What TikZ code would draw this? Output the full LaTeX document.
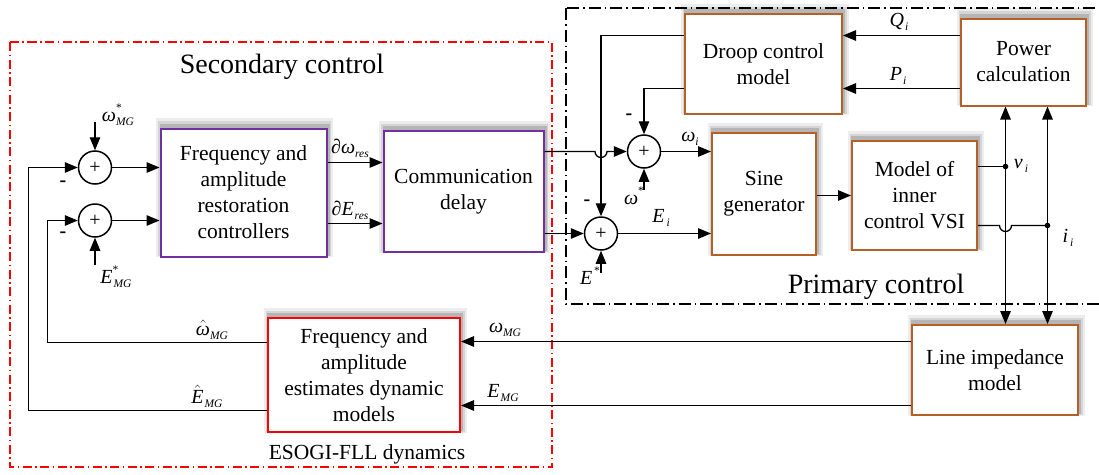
\documentclass[tikz,border=0pt]{standalone}
\usepackage{fontspec}
\setmainfont{Liberation Serif}
\usetikzlibrary{arrows.meta,calc}

\definecolor{boxpurple}{RGB}{112,48,160}
\definecolor{boxbrown}{RGB}{181,96,38}

% signal labels
\newcommand\subfont{\fontsize{11.5}{11.5}\selectfont}
\newcommand\vsub[2]{\textit{#1}\raisebox{-0.45ex}{\subfont\textit{#2}}}
\newcommand\vstar[2]{\textit{#1}\rlap{\raisebox{1.05ex}{\subfont *}}\raisebox{-0.45ex}{\subfont\textit{#2}}}
\newcommand\hatw{\ensuremath{\hat{\mbox{\textit{ω}}}}}
\newcommand\hatE{\ensuremath{\hat{\mbox{\textit{E}}}}}

\tikzset{
  softshadow/.style={
    preaction={draw=black, draw opacity=0.07, line width=11pt, transform canvas={xshift=1pt,yshift=5pt}},
    preaction={draw=black, draw opacity=0.10, line width=7pt, transform canvas={xshift=1pt,yshift=4pt}},
    preaction={draw=black, draw opacity=0.15, line width=4pt, transform canvas={xshift=1pt,yshift=3pt}}},
  blk/.style={softshadow, draw, line width=2pt, fill=white, align=center, inner sep=0pt,
    font=\fontsize{21.5}{26}\selectfont},
  pblk/.style={blk, draw=boxpurple},
  bblk/.style={blk, draw=boxbrown},
  rblk/.style={blk, draw=red},
  sumnode/.style={circle, draw, line width=1.5pt, fill=white, minimum size=33pt,
    inner sep=0pt, font=\fontsize{20}{20}\selectfont},
  conn/.style={line width=1.3pt},
  arr/.style={conn, -{Triangle[length=13pt,width=10.5pt]}},
  arrboth/.style={conn, {Triangle[length=13pt,width=10.5pt]}-{Triangle[length=13pt,width=10.5pt]}},
  lbl/.style={font=\fontsize{20}{20}\selectfont, inner sep=0pt},
  minus/.style={font=\bfseries\fontsize{20}{20}\selectfont, inner sep=0pt},
  title/.style={font=\fontsize{28}{28}\selectfont, inner sep=0pt, anchor=base},
  secgroup/.style={draw=red, line width=1.3pt, dash pattern=on 9pt off 3.5pt on 1.5pt off 3.5pt},
  primgroup/.style={draw=black, line width=1.1pt, dash pattern=on 12pt off 4pt on 1.5pt off 4pt}
}

\begin{document}
\begin{tikzpicture}[x=1pt, y=-1pt]
\useasboundingbox (0,0) rectangle (1099,474);

% control layers
\draw[secgroup] (10,42) rectangle (552,467);
\draw[primgroup] (566,8) rectangle (1115,304);
\node[title] (sectitle) at (282,73) {Secondary control};
\node[title] (primtitle) at (876,293) {Primary control};

% blocks
\node[pblk, minimum width=166pt, minimum height=128pt] (frc) at (243.5,192.5)
  {Frequency and\\amplitude\\restoration\\controllers};
\node[pblk, minimum width=160pt, minimum height=121pt] (cd) at (463.5,191.5)
  {Communication\\delay};
\node[bblk, minimum width=157pt, minimum height=100pt] (droop) at (763.5,64)
  {Droop control\\model};
\node[bblk, minimum width=125pt, minimum height=87pt] (pc) at (1023.5,62)
  {Power\\calculation};
\node[bblk, minimum width=104pt, minimum height=122pt] (sine) at (764,194)
  {Sine\\generator};
\node[bblk, minimum width=125pt, minimum height=109pt] (inner) at (914.5,195.5)
  {Model of\\inner\\control VSI};
\node[rblk, minimum width=192pt, minimum height=114pt] (est) at (364,375)
  {Frequency and\\amplitude\\estimates dynamic\\models};
\node[bblk, minimum width=166pt, minimum height=90pt] (line) at (995,370)
  {Line impedance\\model};
\node[font=\fontsize{21.5}{26}\selectfont, inner sep=0pt, anchor=base] (esogi) at (367,459)
  {ESOGI-FLL dynamics};

% summing junctions
\node[sumnode] (s1) at (95,167.5) {+};
\node[sumnode] (s2) at (95,220.5) {+};
\node[sumnode] (s3) at (644,151.5) {+};
\node[sumnode] (s4) at (601,233.5) {+};

% reference inputs
\coordinate (wref) at (95,122);
\coordinate (eref) at (95,265);
\coordinate (wstar) at (644,190);
\coordinate (estar) at (601,273);
\draw[arr] (wref) -- (s1.north);
\draw[arr] (eref) -- (s2.south);
\draw[arr] (wstar) -- (s3.south);
\draw[arr] (estar) -- (s4.south);

% secondary loop
\draw[arr] (s1.east) -- (s1.east -| frc.west);
\draw[arr] (s2.east) -- (s2.east -| frc.west);
\coordinate (dwo) at ([yshift=30pt]frc.east);
\coordinate (deo) at ([yshift=-31pt]frc.east);
\draw[arr] (dwo) -- (dwo -| cd.west);
\draw[arr] (deo) -- (deo -| cd.west);
\draw[arr] (cd.east |- s3) -- ($(s4.north |- s3)+(-6,0)$)
  arc[start angle=180, end angle=360, radius=6pt] -- (s3.west);
\draw[arr] (cd.east |- s4) -- (s4.west);

% droop control
\coordinate (dq) at ([yshift=28.5pt]droop.west);
\coordinate (dp) at ([yshift=-24.5pt]droop.west);
\draw[arr] (dq) -| (s4.north);
\draw[arr] (dp) -| (s3.north);
\draw[arr] (dq -| pc.west) -- (dq -| droop.east);
\draw[arr] (dp -| pc.west) -- (dp -| droop.east);

% primary forward path
\draw[arr] (s3.east) -- (s3.east -| sine.west);
\draw[arr] (s4.east) -- (s4.east -| sine.west);
\draw[arr] (sine.east |- inner.west) -- (inner.west);

% measured voltage and current
\coordinate (vtop) at ([xshift=-18pt]pc.south);
\coordinate (itop) at ([xshift=24pt]pc.south);
\draw[arrboth] (vtop) -- (vtop |- line.north);
\draw[arrboth] (itop) -- (itop |- line.north);
\coordinate (vb) at ([yshift=29pt]inner.east);
\coordinate (ib) at ([yshift=-30pt]inner.east);
\draw[conn] (vb) -- (vb -| vtop);
\fill (vb -| vtop) circle (2.8pt);
\draw[conn] (ib) -- ($(ib -| vtop)+(-6,0)$)
  arc[start angle=180, end angle=360, radius=6pt] -- (ib -| itop);
\fill (ib -| itop) circle (2.8pt);

% microgrid measurements
\coordinate (wm) at ([yshift=28.5pt]line.west);
\coordinate (em) at ([yshift=-35.5pt]line.west);
\draw[arr] (wm) -- (wm -| est.east);
\draw[arr] (em) -- (em -| est.east);

% estimates fed back
\coordinate (wh) at ([yshift=32.5pt]est.west);
\coordinate (eh) at ([yshift=-35.5pt]est.west);
\coordinate (fbo) at ([xshift=-49pt]s1.west);
\coordinate (fbi) at ([xshift=-30pt]s2.west);
\draw[arr] (eh) -| (fbo) -- (s1.west);
\draw[arr] (wh) -| (fbi) -- (s2.west);

% signs
\node[minus] (m1) at (63,184) {-};
\node[minus] (m2) at (63,235) {-};
\node[minus] (m3) at (629,117) {-};
\node[minus] (m4) at (587,203) {-};

% signal labels
\node[lbl] (l1) at (118,115) {\vstar{ω}{MG}};
\node[lbl] (l2) at (116,277) {\vstar{E}{\kern1pt MG}};
\node[lbl] (l3) at (350,148) {∂\vsub{ω}{res}};
\node[lbl] (l4) at (350,210) {∂\vsub{E}{\kern1pt res}};
\node[lbl] (l5) at (690,139) {\vsub{ω}{i}};
\node[lbl] (l6) at (661,218) {\vsub{E}{\kern2pt i}};
\node[lbl] (l7) at (634,196) {\textit{ω}\raisebox{1.05ex}{\subfont *}};
\node[lbl] (l8) at (590,276) {\textit{E}\kern2pt\raisebox{1.05ex}{\subfont *}};
\node[lbl] (l9) at (899,22) {\vsub{Q}{\kern1pt i}};
\node[lbl] (l10) at (898,76) {\vsub{P}{\kern1pt i}};
\node[lbl] (l11) at (1021,166) {\vsub{v}{\kern2pt i}};
\node[lbl] (l12) at (1068,238) {\vsub{i}{\kern2pt i}};
\node[lbl] (l13) at (505,330) {\vsub{ω}{MG}};
\node[lbl] (l14) at (503,393) {\vsub{E}{\kern1pt MG}};
\node[lbl] (l15) at (212,330) {\hatw\raisebox{-0.45ex}{\subfont\textit{MG}}};
\node[lbl] (l16) at (207,396) {\hatE\raisebox{-0.45ex}{\subfont\textit{\kern1pt MG}}};
\end{tikzpicture}
\end{document}
